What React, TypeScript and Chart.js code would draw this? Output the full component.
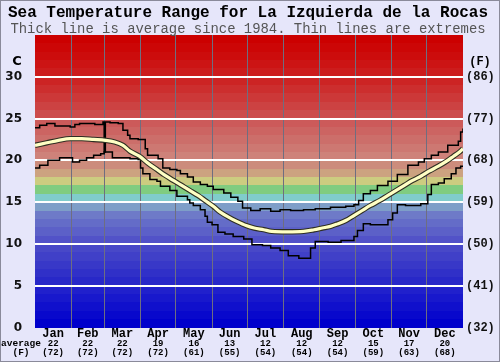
import React, { useEffect, useRef } from 'react';
import { Chart, registerables } from 'chart.js';

Chart.register(...registerables);

// ---------- data ----------
const months = ['Jan', 'Feb', 'Mar', 'Apr', 'May', 'Jun', 'Jul', 'Aug', 'Sep', 'Oct', 'Nov', 'Dec'];
const monthStartDays = [0, 31, 59, 90, 120, 151, 181, 212, 243, 273, 304, 334, 365];
const monthAvgC = [22, 22, 22, 19, 16, 13, 12, 12, 12, 15, 17, 20];
const monthAvgF = [72, 72, 72, 72, 61, 55, 54, 54, 54, 59, 63, 68];
const yTicksC = [0, 5, 10, 15, 20, 25, 30];

const avgDays = [0, 10, 20, 30, 40, 50, 60, 68, 75, 81, 89, 96, 104, 110, 118, 125, 132, 139, 145, 152, 158, 165, 172, 180, 187, 195, 202, 215, 229, 238, 245, 252, 258, 265, 272, 279, 286, 294, 301, 308, 315, 322, 329, 336, 344, 351, 357, 362, 365];
const avgTemps = [21.8, 22.1, 22.4, 22.6, 22.6, 22.5, 22.4, 22.2, 21.8, 21.1, 20.5, 19.7, 18.9, 18.3, 17.6, 17.0, 16.4, 15.8, 15.2, 14.5, 13.8, 13.2, 12.7, 12.2, 11.9, 11.7, 11.5, 11.45, 11.5, 11.7, 11.9, 12.1, 12.4, 12.8, 13.4, 14.0, 14.6, 15.2, 15.8, 16.4, 17.0, 17.6, 18.1, 18.7, 19.3, 19.9, 20.5, 21.0, 21.4];

const maxDays = [0, 4, 10, 17, 30, 34, 38, 51, 58, 59, 60, 64, 71, 75, 79, 81, 88, 94, 96, 105, 109, 115, 121, 124, 130, 135, 141, 147, 152, 161, 167, 173, 177, 184, 192, 201, 209, 218, 229, 239, 252, 265, 272, 276, 280, 286, 292, 301, 309, 318, 327, 332, 338, 344, 352, 361, 363, 365];
const maxTemps = [23.9, 24.2, 24.4, 24.1, 24.0, 24.3, 24.4, 24.3, 24.6, 21.0, 24.6, 24.5, 24.4, 23.6, 23.0, 22.6, 22.5, 21.4, 20.6, 20.2, 19.1, 18.9, 18.8, 18.4, 18.0, 17.4, 17.1, 16.9, 16.5, 16.1, 15.6, 15.1, 14.3, 14.0, 14.2, 13.9, 14.1, 14.0, 14.1, 14.2, 14.4, 14.5, 14.7, 15.2, 16.0, 16.4, 17.0, 17.5, 18.3, 19.4, 19.8, 20.2, 20.6, 21.0, 21.8, 22.3, 23.4, 23.8];

const minDays = [0, 4, 11, 21, 30, 32, 37, 38, 44, 50, 56, 59, 65, 66, 81, 88, 90, 92, 98, 104, 107, 115, 121, 130, 132, 135, 141, 145, 147, 151, 156, 162, 169, 178, 185, 194, 201, 209, 216, 225, 232, 235, 239, 250, 261, 272, 275, 280, 286, 292, 301, 305, 309, 316, 329, 335, 338, 344, 349, 355, 359, 363, 365];
const minTemps = [19.1, 19.4, 20.0, 20.3, 20.3, 19.8, 19.8, 20.0, 20.3, 20.6, 20.8, 21.0, 21.0, 20.3, 20.2, 20.1, 19.1, 18.4, 17.7, 17.5, 16.9, 16.4, 15.7, 15.3, 14.9, 14.6, 14.1, 13.3, 12.6, 12.3, 11.4, 11.2, 10.9, 10.6, 9.9, 9.8, 9.5, 9.2, 8.6, 8.3, 8.3, 9.5, 10.3, 10.2, 10.4, 10.9, 11.6, 12.4, 12.3, 12.3, 12.9, 13.7, 14.7, 14.6, 14.8, 15.9, 17.1, 17.3, 17.8, 18.4, 19.1, 19.3, 19.2];

// ---------- style ----------
const BAND = [
  'rgb(0,0,204)', 'rgb(8,8,204)', 'rgb(16,16,204)', 'rgb(24,24,204)', 'rgb(32,32,204)',
  'rgb(40,40,200)', 'rgb(48,48,200)', 'rgb(56,56,200)', 'rgb(64,64,200)', 'rgb(72,72,200)',
  'rgb(82,82,200)', 'rgb(92,96,200)', 'rgb(100,108,200)', 'rgb(110,122,200)', 'rgb(126,158,200)',
  'rgb(128,204,204)', 'rgb(128,204,128)', 'rgb(204,204,128)', 'rgb(204,162,128)', 'rgb(204,140,124)',
  'rgb(206,130,122)', 'rgb(205,120,114)', 'rgb(204,110,106)', 'rgb(204,100,98)', 'rgb(204,90,90)',
  'rgb(204,76,76)', 'rgb(204,66,66)', 'rgb(204,56,56)', 'rgb(204,46,46)', 'rgb(204,36,36)',
  'rgb(204,28,28)', 'rgb(204,20,20)', 'rgb(204,12,12)', 'rgb(204,6,6)', 'rgb(204,0,0)',
];
const BG = '#e6e6fa';
const MONO = '"Liberation Mono", "DejaVu Sans Mono", monospace';
const SANS = '"DejaVu Sans", sans-serif';

const pts = (xs: number[], ys: number[]) => xs.map((x, i) => ({ x, y: ys[i] }));

const decorPlugin = {
  id: 'decor',
  beforeDraw(chart: any) {
    const { ctx, chartArea: a, scales } = chart;
    const y = scales.y;
    ctx.save();
    ctx.fillStyle = BG;
    ctx.fillRect(0, 0, chart.width, chart.height);
    for (let t = 0; t < BAND.length; t++) {
      const top = Math.round(y.getPixelForValue(t + 1));
      const bot = Math.round(y.getPixelForValue(t));
      ctx.fillStyle = BAND[t];
      ctx.fillRect(a.left, top, a.right - a.left, bot - top);
    }
    ctx.restore();
  },
  afterDraw(chart: any) {
    const { ctx, scales } = chart;
    const x = scales.x;
    ctx.save();
    ctx.textAlign = 'center';
    ctx.textBaseline = 'middle';
    ctx.fillStyle = '#000';
    ctx.font = `bold 16px ${MONO}`;
    ctx.fillText('Sea Temperature Range for La Izquierda de la Rocas', 248, 13);
    ctx.fillStyle = '#555';
    ctx.font = `13.9px ${MONO}`;
    ctx.fillText('Thick line is average since 1984. Thin lines are extremes', 248, 29);

    ctx.fillStyle = '#000';
    ctx.font = `bold 13px ${SANS}`;
    ctx.fillText('C', 17, 62);
    ctx.font = `bold 12px ${MONO}`;
    ctx.fillText('(F)', 480, 62);

    for (let i = 0; i < months.length; i++) {
      const mid = (monthStartDays[i] + monthStartDays[i + 1]) / 2;
      const px = x.getPixelForValue(mid);
      ctx.font = `bold 12px ${MONO}`;
      ctx.fillText(months[i], px, 334);
      ctx.font = `bold 9px ${MONO}`;
      ctx.fillText(String(monthAvgC[i]), px, 343.5);
      ctx.fillText(`(${monthAvgF[i]})`, px, 353);
    }
    ctx.font = `bold 9.5px ${MONO}`;
    ctx.fillText('average', 21, 343.5);
    ctx.fillText('(F)', 21, 353);

    ctx.strokeStyle = '#8a8a9a';
    ctx.lineWidth = 1;
    ctx.strokeRect(0.5, 0.5, chart.width - 1, chart.height - 1);
    ctx.restore();
  },
};

export default function App() {
  const ref = useRef<HTMLCanvasElement | null>(null);

  useEffect(() => {
    document.body.style.margin = '0';
    const canvas = ref.current;
    if (!canvas) return;
    const chart = new Chart(canvas, {
      type: 'line',
      data: {
        datasets: [
          {
            data: pts(avgDays, avgTemps),
            borderColor: '#ffffc4',
            borderWidth: 3.2,
            pointRadius: 0,
            cubicInterpolationMode: 'monotone',
            fill: false,
            order: 0,
          },
          {
            data: pts(avgDays, avgTemps),
            borderColor: '#2e2e22',
            borderWidth: 5.4,
            pointRadius: 0,
            cubicInterpolationMode: 'monotone',
            fill: false,
            order: 1,
          },
          {
            data: pts(maxDays, maxTemps),
            borderColor: '#000',
            borderWidth: 1.5,
            pointRadius: 0,
            stepped: 'before',
            fill: false,
            order: 2,
          },
          {
            data: pts(minDays, minTemps),
            borderColor: '#000',
            borderWidth: 1.5,
            pointRadius: 0,
            stepped: 'before',
            fill: false,
            order: 3,
          },
        ],
      },
      options: {
        animation: false,
        responsive: false,
        maintainAspectRatio: false,
        devicePixelRatio: 1,
        layout: { padding: { top: 35, left: 0, right: 0, bottom: 0 } },
        plugins: { legend: { display: false }, tooltip: { enabled: false }, title: { display: false } },
        scales: {
          x: {
            type: 'linear',
            min: 0,
            max: 365,
            afterFit: (s: any) => { s.height = 34.5; },
            afterBuildTicks: (s: any) => { s.ticks = monthStartDays.map((v) => ({ value: v })); },
            ticks: { display: false },
            border: { display: false },
            grid: {
              drawTicks: false,
              lineWidth: 1,
              color: (c: any) => (c.tick && (c.tick.value === 0 || c.tick.value === 365) ? 'rgba(0,0,0,0)' : '#6e6e80'),
            },
          },
          y: {
            position: 'left',
            min: 0,
            max: 35,
            afterFit: (s: any) => { s.width = 35; },
            afterBuildTicks: (s: any) => { s.ticks = yTicksC.map((v) => ({ value: v })); },
            ticks: {
              color: '#111',
              padding: 13,
              font: { family: SANS, size: 12, weight: 'bold' },
            },
            border: { display: false },
            grid: {
              drawTicks: false,
              lineWidth: 2,
              color: (c: any) => (c.tick && c.tick.value === 0 ? 'rgba(0,0,0,0)' : '#ffffff'),
            },
          },
          y2: {
            position: 'right',
            min: 0,
            max: 35,
            afterFit: (s: any) => { s.width = 37; },
            afterBuildTicks: (s: any) => { s.ticks = yTicksC.map((v) => ({ value: v })); },
            ticks: {
              color: '#111',
              padding: 3,
              font: { family: MONO, size: 12, weight: 'bold' },
              callback: (v: any) => `(${Math.round((Number(v) * 9) / 5 + 32)})`,
            },
            border: { display: false },
            grid: { display: false, drawTicks: false },
          },
        },
      },
      plugins: [decorPlugin],
    } as any);
    return () => chart.destroy();
  }, []);

  return (
    <div style={{ width: 500, height: 362 }}>
      <canvas ref={ref} width={500} height={362} style={{ display: 'block' }} />
    </div>
  );
}
